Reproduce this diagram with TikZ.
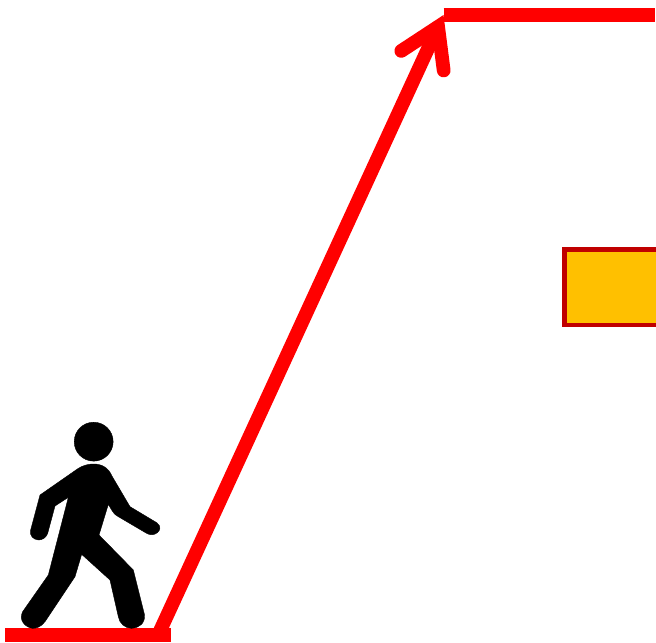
\documentclass[tikz,border=0pt]{standalone}
\usepackage{xcolor}
\usepackage{tikz}
\usetikzlibrary{arrows.meta}
\definecolor{barred}{HTML}{FF0000}
\definecolor{boxedge}{HTML}{C00000}
\definecolor{boxfill}{HTML}{FFC000}

\begin{document}
\begin{tikzpicture}[
  x=0.75pt, y=-0.75pt,
  level/.style={draw=barred, line width=10.3pt},
  climb/.style={draw=barred, line width=10.3pt,
    -{Straight Barb[length=28pt, width=35pt, line cap=round, line join=miter]}},
  panel/.style={draw=boxedge, fill=boxfill, line width=3.4pt},
  walker/.style={fill=black, draw=black, line width=0.3pt},
]
  \useasboundingbox (0,0) rectangle (656,642);
  \coordinate (groundL) at (5,634.8);
  \coordinate (groundR) at (171,634.8);
  \coordinate (landL) at (443.5,15);
  \coordinate (landR) at (655,15);
  \coordinate (climbS) at (159.5,632);
  \draw[panel] (564.5,249.7) rectangle (662,325);
  \draw[climb] (climbS) -- (landL);
  \draw[level] (groundL) -- (groundR);
  \draw[level] (landL) -- (landR);
  % walking figure
  \begin{scope}[x=0.25pt, y=-0.25pt, shift={(0pt,-307.5pt)}]
    \path[walker] (281,95) circle (14.6pt);
    \path[walker] (280,162) .. controls (305,162) and (325,172) .. (337,200)
      -- (390,290) -- (470,338)
      .. controls (485,348) and (480,362) .. (472,368)
      .. controls (462,376) and (450,376) .. (440,370)
      -- (355,320) .. controls (345,314) and (340,310) .. (335,300)
      -- (325,283) -- (297,375) -- (400,480) -- (433,612)
      .. controls (438,640) and (415,655) .. (395,655)
      .. controls (375,655) and (358,640) .. (355,620)
      -- (330,510) -- (245,433) -- (225,500) -- (135,635)
      .. controls (122,652) and (108,655) .. (98,655)
      .. controls (75,652) and (55,630) .. (68,605)
      -- (145,495) -- (205,262) -- (165,288) -- (143,370)
      .. controls (138,385) and (125,390) .. (115,390)
      .. controls (100,388) and (88,378) .. (92,360)
      -- (120,255) -- (235,175)
      .. controls (250,166) and (265,162) .. (280,162) -- cycle;
  \end{scope}
\end{tikzpicture}
\end{document}
